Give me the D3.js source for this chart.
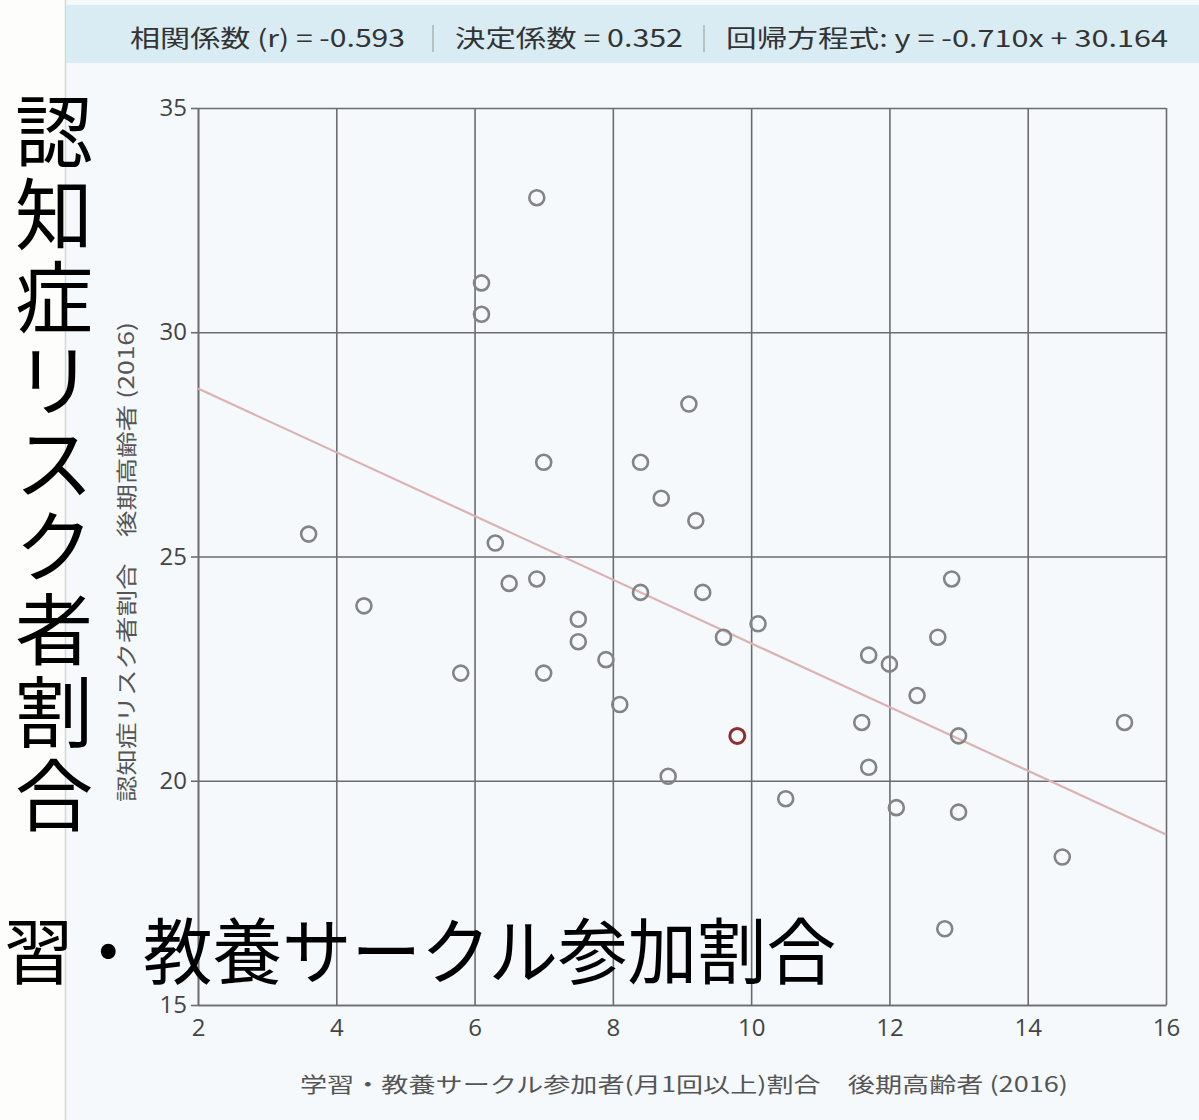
<!DOCTYPE html>
<html>
<head>
<meta charset="utf-8">
<script src="https://cdn.jsdelivr.net/npm/d3@7"></script>
<style>
  body { margin: 0; background: #fdfdfb; }
  svg { display: block; }
  text { font-family: "Noto Sans CJK JP", "Open Sans", sans-serif; }
</style>
</head>
<body>
<svg id="scatter" width="1199" height="1120"></svg>
<script>
//Data
var xValues = [6.9, 6.1, 6.1, 9.1, 7.0, 8.4, 8.7, 9.2, 3.6, 6.3,
               6.5, 6.9, 8.4, 9.3, 12.9, 4.4, 7.5, 7.5, 10.1, 9.6,
               12.7, 7.9, 5.8, 7.0, 11.7, 12.0, 12.4, 8.1, 11.6, 15.4,
               13.0, 9.8, 11.7, 8.8, 10.5, 12.1, 13.0, 14.5, 12.8];
var yValues = [33.0, 31.1, 30.4, 28.4, 27.1, 27.1, 26.3, 25.8, 25.5, 25.3,
               24.4, 24.5, 24.2, 24.2, 24.5, 23.9, 23.6, 23.1, 23.5, 23.2,
               23.2, 22.7, 22.4, 22.4, 22.8, 22.6, 21.9, 21.7, 21.3, 21.3,
               21.0, 21.0, 20.3, 20.1, 19.6, 19.4, 19.3, 18.3, 16.7];
var highlightIndex = 31;   //the red circle

var xTicks = [2, 4, 6, 8, 10, 12, 14, 16];
var yTicks = [15, 20, 25, 30, 35];

var slope = -0.710, intercept = 30.164;
var statTexts = ["相関係数 (r) = -0.593", "決定係数 =  0.352", "回帰方程式: y = -0.710x  + 30.164"];

var xTitle = "学習・教養サークル参加者(月1回以上)割合　後期高齢者 (2016)";
var yTitle = "認知症リスク者割合　後期高齢者 (2016)";
var bigVertical = "認知症リスク者割合";
var bigHorizontal = "習・教養サークル参加割合";

var svg = d3.select("svg#scatter");
//note: "top" is taken by window.top, so prefix everything
var plotLeft = 198, plotRight = 1166, plotTop = 108, plotBottom = 1005;

var x = d3.scaleLinear().domain([2, 16]).range([plotLeft, plotRight]);
var y = d3.scaleLinear().domain([15, 35]).range([plotBottom, plotTop]);

//Panel and header bar
svg.append("rect").attr("x", 65).attr("y", 0).attr("width", 1134).attr("height", 1120)
  .attr("fill", "#f5f9fc");
svg.append("line").attr("x1", 65.5).attr("x2", 65.5).attr("y1", 0).attr("y2", 1120)
  .attr("stroke", "#d6d6d6").attr("stroke-width", 1.5);
svg.append("rect").attr("x", 66).attr("y", 5).attr("width", 1133).attr("height", 58)
  .attr("fill", "#d9ebf3");

var statPos = [[130, 405], [455, 683], [726, 1168]];
svg.selectAll(".stat").data(statTexts).enter().append("text")
    .attr("class", "stat")
    .attr("x", function (d, i) { return statPos[i][0]; })
    .attr("y", 47)
    .attr("textLength", function (d, i) { return statPos[i][1] - statPos[i][0]; })
    .attr("lengthAdjust", "spacingAndGlyphs")
    .style("font-size", "24px")
    .style("fill", "#333")
    .text(function (d) { return d; });
svg.selectAll(".sep").data([433, 704]).enter().append("line")
    .attr("x1", function (d) { return d; }).attr("x2", function (d) { return d; })
    .attr("y1", 25).attr("y2", 52)
    .attr("stroke", "#a5a5a5").attr("stroke-width", 1.2);

//Grid lines
var gridColor = "#6c6c6c";
svg.append("g")
    .attr("transform", "translate(0," + plotBottom + ")")
    .call(d3.axisBottom(x).tickValues(xTicks).tickSize(-(plotBottom - plotTop)).tickFormat(""))
    .call(function (g) { g.select(".domain").remove(); })
    .selectAll("line").attr("stroke", gridColor).attr("stroke-width", 1.6);
svg.append("g")
    .attr("transform", "translate(" + plotLeft + ",0)")
    .call(d3.axisLeft(y).tickValues(yTicks).tickSize(-(plotRight - plotLeft)).tickFormat(""))
    .call(function (g) { g.select(".domain").remove(); })
    .selectAll("line").attr("stroke", gridColor).attr("stroke-width", 1.6);

//Axes with labels
var yAxis = svg.append("g")
    .attr("transform", "translate(" + plotLeft + ",0)")
    .call(d3.axisLeft(y).tickValues(yTicks).tickSize(7).tickSizeOuter(0).tickPadding(4));
yAxis.select(".domain").attr("stroke", gridColor).attr("stroke-width", 1.6);
yAxis.selectAll("line").attr("stroke", gridColor).attr("stroke-width", 1.6);
yAxis.selectAll("text").style("font-family", "'Open Sans', sans-serif")
    .style("font-size", "24px").style("fill", "#444");

var xAxis = svg.append("g")
    .attr("transform", "translate(0," + plotBottom + ")")
    .call(d3.axisBottom(x).tickValues(xTicks).tickSize(0).tickSizeOuter(0).tickPadding(14));
xAxis.select(".domain").attr("stroke", gridColor).attr("stroke-width", 1.6);
xAxis.selectAll("text").style("font-family", "'Open Sans', sans-serif")
    .style("font-size", "24px").style("fill", "#444");

//Axis titles
svg.append("text")
    .attr("x", 300).attr("y", 1092)
    .attr("textLength", 768).attr("lengthAdjust", "spacingAndGlyphs")
    .style("font-size", "21px").style("fill", "#555")
    .text(xTitle);
svg.append("text")
    .attr("transform", "translate(134,802) rotate(-90)")
    .attr("textLength", 480).attr("lengthAdjust", "spacingAndGlyphs")
    .style("font-size", "21px").style("fill", "#555")
    .text(yTitle);

//Regression line
svg.append("line")
    .attr("x1", x(2)).attr("y1", y(slope * 2 + intercept))
    .attr("x2", x(16)).attr("y2", y(slope * 16 + intercept))
    .attr("stroke", "#dbb3b3").attr("stroke-width", 2.2);

//Points
var points = xValues.map(function (d, i) { return { x: d, y: yValues[i], hi: i === highlightIndex }; });
svg.selectAll(".dot").data(points).enter().append("circle")
    .attr("class", "dot")
    .attr("cx", function (d) { return x(d.x); })
    .attr("cy", function (d) { return y(d.y); })
    .attr("r", 7.5)
    .attr("fill", "none")
    .attr("stroke", function (d) { return d.hi ? "#8e2f2f" : "#848484"; })
    .attr("stroke-width", function (d) { return d.hi ? 3 : 2.6; });

//Big overlay labels
svg.selectAll(".bigV").data(bigVertical.split("")).enter().append("text")
    .attr("class", "bigV")
    .attr("x", 54)
    .attr("y", function (d, i) { return 127 + i * 83; })
    .attr("text-anchor", "middle")
    .attr("dominant-baseline", "central")
    .style("font-size", "78px").style("fill", "#000")
    .text(function (d) { return d; });
svg.append("text")
    .attr("x", 4).attr("y", 946)
    .attr("dominant-baseline", "central")
    .attr("textLength", 832).attr("lengthAdjust", "spacingAndGlyphs")
    .style("font-size", "72px").style("fill", "#000")
    .text(bigHorizontal);
</script>
</body>
</html>
